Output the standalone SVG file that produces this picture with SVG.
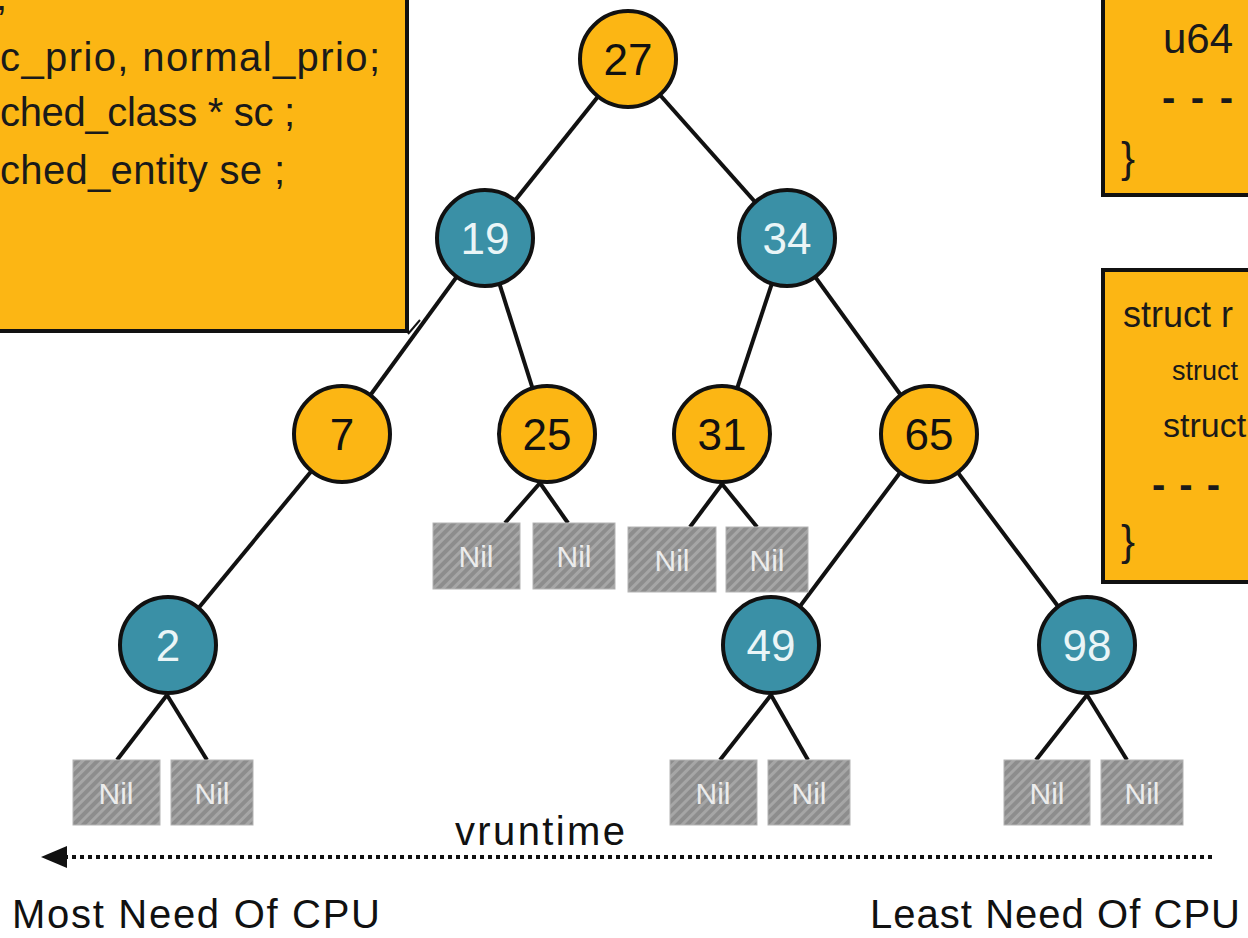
<svg xmlns="http://www.w3.org/2000/svg" width="1248" height="938" viewBox="0 0 1248 938">
<defs>
<style>
.code{font-family:"Liberation Sans",Arial,sans-serif;font-size:40px;fill:#1a1a1a}
.s27{font-size:27px}
.s34{font-size:34px}
.s36{font-size:36px}
.s42{font-size:42px}
.dash{font-weight:bold}
.box{fill:#FCB614;stroke:#111;stroke-width:4}
.edge{stroke:#111;stroke-width:4;fill:none}
.on{fill:#FCB614;stroke:#111;stroke-width:4}
.tn{fill:#3A90A6;stroke:#111;stroke-width:4}
.lo{font-family:"Liberation Sans",Arial,sans-serif;font-size:44px;fill:#111;text-anchor:middle}
.lt{font-family:"Liberation Sans",Arial,sans-serif;font-size:44px;fill:#EAF5F7;text-anchor:middle}
.nil{fill:url(#stripes);stroke:#b4b4b4;stroke-width:1}
.nilt{font-family:"Liberation Sans",Arial,sans-serif;font-size:30px;fill:#ececec;text-anchor:middle}
.lbl{font-family:"Liberation Sans",Arial,sans-serif;fill:#111}
.big{font-size:40px}
.mid{font-size:40px}
</style>
<pattern id="stripes" patternUnits="userSpaceOnUse" width="7" height="7" patternTransform="rotate(45)">
<rect width="7" height="7" fill="#8d8d8d"/>
<rect width="3" height="7" fill="#a6a6a6"/>
</pattern>
</defs>

<g id="box-task-struct">
<rect class="box" x="-10" y="-10" width="417" height="341"/>
<text class="code" x="-4" y="10">;</text>
<text class="code" x="0" y="71" textLength="380" lengthAdjust="spacing">c_prio, normal_prio;</text>
<text class="code" x="0" y="126" textLength="295" lengthAdjust="spacing">ched_class * sc ;</text>
<text class="code" x="0" y="184" textLength="285" lengthAdjust="spacing">ched_entity se ;</text>
<line x1="408" y1="334" x2="420" y2="320" stroke="#111" stroke-width="2"/>
</g>

<g id="box-sched-entity">
<rect class="box" x="1103" y="-10" width="160" height="205"/>
<text class="code s42" x="1163" y="53">u64</text>
<text class="code dash" x="1162" y="111" textLength="71" lengthAdjust="spacing">- - -</text>
<text class="code s42" x="1121" y="172">}</text>
</g>

<g id="box-rb-node">
<rect class="box" x="1103" y="270" width="160" height="312"/>
<text class="code s36" x="1123" y="327">struct r</text>
<text class="code s27" x="1172" y="380">struct</text>
<text class="code s34" x="1163" y="437">struct</text>
<text class="code dash" x="1152" y="498" textLength="68" lengthAdjust="spacing">- - -</text>
<text class="code s42" x="1121" y="555">}</text>
</g>

<g id="connectors">
<line class="edge" x1="628" y1="59" x2="485" y2="238"/>
<line class="edge" x1="628" y1="59" x2="787" y2="238"/>
<line class="edge" x1="485" y1="238" x2="342" y2="434"/>
<line class="edge" x1="485" y1="238" x2="547" y2="434"/>
<line class="edge" x1="787" y1="238" x2="722" y2="434"/>
<line class="edge" x1="787" y1="238" x2="929" y2="434"/>
<line class="edge" x1="342" y1="434" x2="168" y2="645"/>
<line class="edge" x1="929" y1="434" x2="771" y2="645"/>
<line class="edge" x1="929" y1="434" x2="1087" y2="645"/>
<line class="edge" x1="540" y1="483" x2="505" y2="523"/>
<line class="edge" x1="540" y1="483" x2="568" y2="523"/>
<line class="edge" x1="722" y1="484" x2="690" y2="527"/>
<line class="edge" x1="722" y1="484" x2="757" y2="527"/>
<line class="edge" x1="167" y1="695" x2="117" y2="760"/>
<line class="edge" x1="167" y1="695" x2="207" y2="760"/>
<line class="edge" x1="771" y1="695" x2="720" y2="760"/>
<line class="edge" x1="771" y1="695" x2="808" y2="760"/>
<line class="edge" x1="1087" y1="695" x2="1036" y2="760"/>
<line class="edge" x1="1087" y1="695" x2="1127" y2="760"/>
</g>

<g id="node-27"><circle class="on" cx="628" cy="59" r="48"/><text class="lo" x="628" y="75">27</text></g>
<g id="node-19"><circle class="tn" cx="485" cy="238" r="48"/><text class="lt" x="485" y="254">19</text></g>
<g id="node-34"><circle class="tn" cx="787" cy="238" r="48"/><text class="lt" x="787" y="254">34</text></g>
<g id="node-7"><circle class="on" cx="342" cy="434" r="48"/><text class="lo" x="342" y="450">7</text></g>
<g id="node-25"><circle class="on" cx="547" cy="434" r="48"/><text class="lo" x="547" y="450">25</text></g>
<g id="node-31"><circle class="on" cx="722" cy="434" r="48"/><text class="lo" x="722" y="450">31</text></g>
<g id="node-65"><circle class="on" cx="929" cy="434" r="48"/><text class="lo" x="929" y="450">65</text></g>
<g id="node-2"><circle class="tn" cx="168" cy="645" r="48"/><text class="lt" x="168" y="661">2</text></g>
<g id="node-49"><circle class="tn" cx="771" cy="645" r="48"/><text class="lt" x="771" y="661">49</text></g>
<g id="node-98"><circle class="tn" cx="1087" cy="645" r="48"/><text class="lt" x="1087" y="661">98</text></g>

<g id="nil-25a"><rect class="nil" x="433" y="523" width="87" height="66"/><text class="nilt" x="476" y="567">Nil</text></g>
<g id="nil-25b"><rect class="nil" x="533" y="523" width="82" height="66"/><text class="nilt" x="574" y="567">Nil</text></g>
<g id="nil-31a"><rect class="nil" x="628" y="527" width="88" height="65"/><text class="nilt" x="672" y="571">Nil</text></g>
<g id="nil-31b"><rect class="nil" x="726" y="527" width="82" height="65"/><text class="nilt" x="767" y="571">Nil</text></g>
<g id="nil-2a"><rect class="nil" x="73" y="760" width="87" height="65"/><text class="nilt" x="116" y="804">Nil</text></g>
<g id="nil-2b"><rect class="nil" x="171" y="760" width="82" height="65"/><text class="nilt" x="212" y="804">Nil</text></g>
<g id="nil-49a"><rect class="nil" x="670" y="760" width="87" height="65"/><text class="nilt" x="713" y="804">Nil</text></g>
<g id="nil-49b"><rect class="nil" x="768" y="760" width="82" height="65"/><text class="nilt" x="809" y="804">Nil</text></g>
<g id="nil-98a"><rect class="nil" x="1004" y="760" width="86" height="65"/><text class="nilt" x="1047" y="804">Nil</text></g>
<g id="nil-98b"><rect class="nil" x="1101" y="760" width="82" height="65"/><text class="nilt" x="1142" y="804">Nil</text></g>

<g id="vruntime-axis">
<line x1="64" y1="857" x2="1215" y2="857" stroke="#111" stroke-width="4" stroke-dasharray="4 4"/>
<polygon points="41,857 67,846 67,868" fill="#111"/>
<text class="lbl mid" x="540" y="845" text-anchor="middle" textLength="170" lengthAdjust="spacing">vruntime</text>
<text class="lbl big" x="12" y="928" textLength="368" lengthAdjust="spacing">Most Need Of CPU</text>
<text class="lbl big" x="870" y="928" textLength="370" lengthAdjust="spacing">Least Need Of CPU</text>
</g>
</svg>
